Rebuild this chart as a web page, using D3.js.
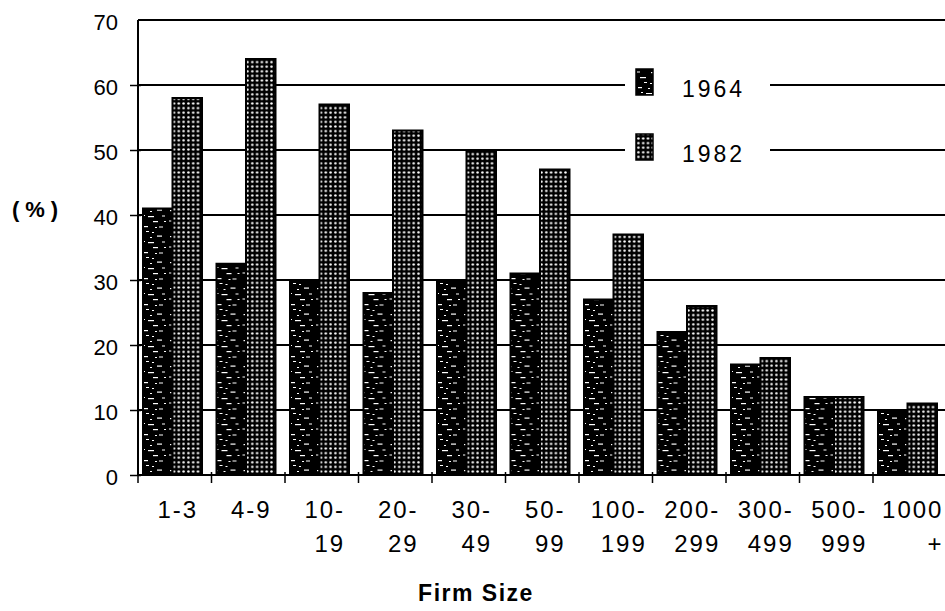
<!DOCTYPE html>
<html>
<head>
<meta charset="utf-8">
<script src="https://cdn.jsdelivr.net/npm/d3@7/dist/d3.min.js"></script>
<style>
  html, body { margin: 0; padding: 0; background: #fff; }
  svg { display: block; }
  text { font-family: "Liberation Sans", Arial, sans-serif; fill: #000; }
</style>
</head>
<body>
<svg id="chart" width="945" height="611"></svg>
<script>
// Firm size classes (two-line labels)
const categories = ["1-3", "4-9", "10-19", "20-29", "30-49", "50-99",
                    "100-199", "200-299", "300-499", "500-999", "1000+"];
const labelLine1 = ["1-3", "4-9", "10-", "20-", "30-", "50-", "100-", "200-", "300-", "500-", "1000"];
const labelLine2 = ["", "", "19", "29", "49", "99", "199", "299", "499", "999", "+"];

const seriesNames = ["1964", "1982"];
const values1964 = [41, 32.5, 30, 28, 30, 31, 27, 22, 17, 12, 10];
const values1982 = [58, 64, 57, 53, 50, 47, 37, 26, 18, 12, 11];

const yTicks = [0, 10, 20, 30, 40, 50, 60, 70];

(function drawChart() {
const svg = d3.select("#chart");
const W = 945;
const plotLeft = 138, plotRight = 946.5, plotTop = 20, plotBottom = 475;

const x0 = d3.scaleBand().domain(categories).range([plotLeft, plotRight]).padding(0);
const x1 = d3.scaleBand().domain(seriesNames).range([5, 64]).padding(0);
const y = d3.scaleLinear().domain([0, 70]).range([plotBottom, plotTop]);

// ---- fill patterns ----
const defs = svg.append("defs");

// 1982: black ground with a regular lattice of white dots
const dots = defs.append("pattern")
  .attr("id", "dots").attr("patternUnits", "userSpaceOnUse")
  .attr("width", 4.8).attr("height", 4.6);
dots.append("rect").attr("width", 4.8).attr("height", 4.6).attr("fill", "#000");
dots.append("circle").attr("cx", 2.4).attr("cy", 2.3).attr("r", 1.25).attr("fill", "#fff");

// 1964: mostly black with short, ragged white streaks
const streaks = defs.append("pattern")
  .attr("id", "streaks").attr("patternUnits", "userSpaceOnUse")
  .attr("width", 30).attr("height", 26);
streaks.append("rect").attr("width", 30).attr("height", 26).attr("fill", "#000");
const streakBits = [
  [2, 2, 4, 1.2], [12, 3, 2, 1], [19, 1.5, 5, 1.2],
  [5, 7, 2, 1], [10, 8, 6, 1.2], [24, 7.5, 3, 1],
  [1, 12.5, 3, 1], [15, 13, 5, 1.2], [26, 13, 2, 1],
  [4, 18, 6, 1.2], [17, 19, 2, 1], [21, 18.5, 4, 1],
  [8, 23, 3, 1], [14, 24, 2, 1]
];
streakBits.forEach(([bx, by, bw, bh]) => {
  streaks.append("rect").attr("x", bx).attr("y", by).attr("width", bw).attr("height", bh).attr("fill", "#fff");
});

const fills = { "1964": "url(#streaks)", "1982": "url(#dots)" };

// ---- grid lines ----
svg.append("g").selectAll("line")
  .data(yTicks.filter(d => d > 0))
  .join("line")
  .attr("x1", plotLeft).attr("x2", W)
  .attr("y1", d => y(d)).attr("y2", d => y(d))
  .attr("stroke", "#000").attr("stroke-width", 2);

// ---- legend backing (breaks the grid lines) ----
const legendX = 625, legendW = 145;
svg.append("rect")
  .attr("x", legendX).attr("y", y(60) - 22)
  .attr("width", legendW).attr("height", y(50) - y(60) + 44)
  .attr("fill", "#fff");

// ---- bars ----
const rows = categories.map((c, i) => ({ cat: c, vals: [
  { s: "1964", v: values1964[i] }, { s: "1982", v: values1982[i] } ] }));

const groups = svg.append("g").selectAll("g")
  .data(rows).join("g")
  .attr("transform", d => `translate(${x0(d.cat)},0)`);

groups.selectAll("rect")
  .data(d => d.vals).join("rect")
  .attr("x", d => x1(d.s))
  .attr("width", x1.bandwidth())
  .attr("y", d => y(d.v))
  .attr("height", d => y(0) - y(d.v))
  .attr("fill", d => fills[d.s])
  .attr("stroke", "#000").attr("stroke-width", 2);

// ---- axes ----
svg.append("line").attr("x1", plotLeft).attr("x2", plotLeft).attr("y1", plotTop).attr("y2", plotBottom)
  .attr("stroke", "#000").attr("stroke-width", 2);
svg.append("line").attr("x1", plotLeft).attr("x2", W).attr("y1", plotTop).attr("y2", plotTop)
  .attr("stroke", "#000").attr("stroke-width", 2);
svg.append("line").attr("x1", plotLeft).attr("x2", W).attr("y1", plotBottom).attr("y2", plotBottom)
  .attr("stroke", "#000").attr("stroke-width", 2);

const yAxis = d3.axisLeft(y).tickValues(yTicks).tickSize(8).tickPadding(12)
  .tickFormat(d3.format("d"));
const yg = svg.append("g").attr("transform", `translate(${plotLeft},0)`).call(yAxis);
yg.select(".domain").remove();
yg.selectAll(".tick line").attr("x2", -8).attr("x1", 3).attr("stroke-width", 1.5);
yg.selectAll(".tick")
  .filter(d => d === 70).select("line").remove();
yg.attr("font-family", null).attr("font-size", null);
yg.selectAll(".tick text")
  .attr("dy", "0.45em")
  .style("font-size", "22px");

// x ticks at band boundaries
const boundaries = categories.map(c => x0(c));
svg.append("g").selectAll("line")
  .data(boundaries).join("line")
  .attr("x1", d => d).attr("x2", d => d)
  .attr("y1", plotBottom - 3).attr("y2", plotBottom + 8)
  .attr("stroke", "#000").attr("stroke-width", 1.5);

// category labels
const lab = svg.append("g").selectAll("g")
  .data(categories).join("g")
  .attr("transform", c => `translate(${x0(c) + x0.bandwidth() / 2 + 3},0)`);
lab.append("text")
  .attr("class", "l1")
  .attr("y", 518)
  .attr("text-anchor", "middle")
  .style("font-size", "24px")
  .style("letter-spacing", "2px")
  .text((c, i) => labelLine1[i]);
lab.each(function (c, i) {
  const g = d3.select(this);
  const t1 = g.select("text.l1").node();
  const w = t1.getComputedTextLength();
  g.append("text")
    .attr("x", w / 2)
    .attr("y", 552)
    .attr("text-anchor", "end")
    .style("font-size", "24px")
    .style("letter-spacing", "2px")
    .text(labelLine2[i]);
});

// axis titles
svg.append("text")
  .attr("x", 476).attr("y", 601)
  .attr("text-anchor", "middle")
  .style("font-size", "23px").style("font-weight", "bold").style("letter-spacing", "1.5px")
  .text("Firm Size");

svg.append("text")
  .attr("x", 38).attr("y", 217)
  .attr("text-anchor", "middle")
  .style("font-size", "22px").style("font-weight", "bold").style("letter-spacing", "6px")
  .text("(%)");

// ---- legend ----
const leg = svg.append("g").selectAll("g")
  .data(seriesNames).join("g")
  .attr("transform", (s, i) => `translate(${legendX + 11},${y(i === 0 ? 60 : 50)})`);
leg.append("rect")
  .attr("x", 0).attr("y", -16).attr("width", 17).attr("height", 26)
  .attr("fill", s => fills[s]).attr("stroke", "#000").attr("stroke-width", 1.5);
leg.append("text")
  .attr("x", 46).attr("y", 12)
  .style("font-size", "23px").style("letter-spacing", "3px")
  .text(s => s);
})();
</script>
</body>
</html>
